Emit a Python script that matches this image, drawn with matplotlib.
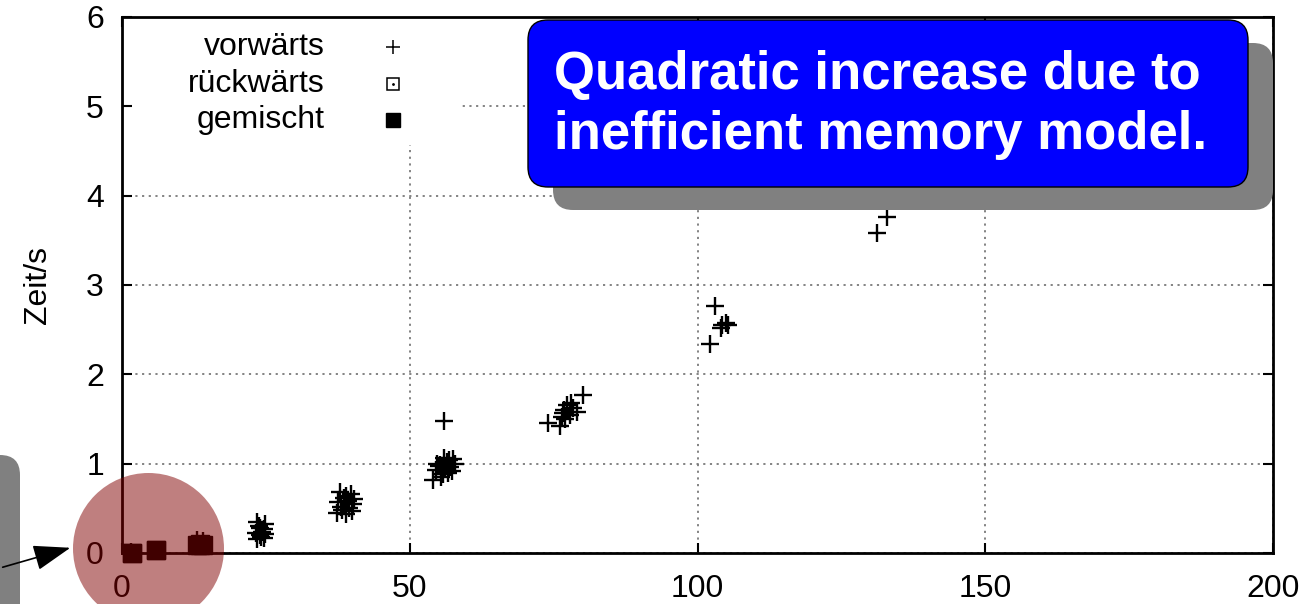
import matplotlib
matplotlib.use("Agg")
import matplotlib.pyplot as plt
from matplotlib.patches import FancyBboxPatch, Circle, Rectangle, FancyArrowPatch

plt.rcParams["font.family"] = ["Liberation Sans", "DejaVu Sans"]

# ── DATA ──────────────────────────────────────────────────────────────────────
SERIES_LABELS = ["vorwärts", "rückwärts", "gemischt"]

# vorwärts: problem size vs. time in seconds
fwd_x = [1.6, 6.0, 13.0, 14.1,
         23.2, 23.8, 24.1, 24.6, 24.9, 23.5, 24.3, 24.8, 23.4, 24.0, 24.7, 23.9,
         37.3, 38.0, 38.6, 39.2, 39.8, 40.3, 37.8, 38.9, 39.5, 40.1, 38.3, 39.0, 39.9, 37.5,
         54.0, 54.6, 55.2, 55.8, 56.4, 57.0, 57.6, 57.9, 54.8, 55.5, 56.2, 56.9, 57.4, 55.0, 56.0,
         56.7, 56.0,
         74.0, 76.1, 76.4, 76.8, 77.3, 77.9, 78.4, 79.0, 77.0, 78.0, 76.6, 80.1,
         102.2, 103.0, 104.0, 104.3, 105.0, 105.3,
         131.2, 132.9]
fwd_y = [0.01, 0.03, 0.14, 0.13,
         0.22, 0.30, 0.18, 0.27, 0.33, 0.16, 0.24, 0.21, 0.35, 0.28, 0.17, 0.20,
         0.45, 0.52, 0.62, 0.58, 0.66, 0.60, 0.68, 0.44, 0.50, 0.55, 0.48, 0.64, 0.47, 0.57,
         0.82, 0.93, 0.98, 0.88, 1.02, 0.96, 1.05, 1.00, 1.00, 0.85, 0.94, 1.04, 0.92, 0.97, 1.06,
         0.90, 1.48,
         1.46, 1.42, 1.52, 1.60, 1.66, 1.55, 1.62, 1.58, 1.50, 1.68, 1.57, 1.77,
         2.34, 2.77, 2.52, 2.55, 2.57, 2.55,
         3.58, 3.76]

# rückwärts: hidden under the gemischt squares
bwd_x = [1.8, 5.9, 13.5]
bwd_y = [0.00, 0.03, 0.09]

# gemischt
mix_x = [1.8, 5.9, 13.1, 13.6, 14.0]
mix_y = [0.00, 0.03, 0.09, 0.10, 0.09]

X_TICKS = [0, 50, 100, 150, 200]
Y_TICKS = [0, 1, 2, 3, 4, 5, 6]

NOTE_TEXT = "Quadratic increase due to\ninefficient memory model."

W_PX, H_PX = 1310, 604


def px_in(x, y):
    """pixel coords (top-left origin) -> inches (bottom-left origin)"""
    return x / 100.0, (H_PX - y) / 100.0


fig = plt.figure(figsize=(W_PX / 100, H_PX / 100), dpi=100)
ax = fig.add_axes([122 / W_PX, 51 / H_PX, 1151 / W_PX, 536 / H_PX])

ax.set_axisbelow(True)
ax.grid(True, color="#7a7a7a", linewidth=1.3, linestyle=(0, (1.2, 2.5)))

ax.plot(fwd_x, fwd_y, linestyle="none", marker="+", markersize=13,
        markeredgewidth=1.7, color="black", zorder=3, clip_on=False)
ax.plot(bwd_x, bwd_y, linestyle="none", marker="s", markersize=13,
        markerfacecolor="white", markeredgecolor="black", zorder=3, clip_on=False)
ax.plot(mix_x, mix_y, linestyle="none", marker="s", markersize=13.5,
        color="black", zorder=4, clip_on=False)

ax.set_xlim(0, 200)
ax.set_ylim(0, 6)
ax.set_xticks(X_TICKS)
ax.set_yticks(Y_TICKS)
ax.tick_params(direction="in", length=7, width=1.5, top=True, right=True,
               labelsize=23, colors="black")
ax.tick_params(axis="y", pad=13)
ax.tick_params(axis="x", pad=15)
for sp in ax.spines.values():
    sp.set_linewidth(2)
ax.set_ylabel("Zeit/s", fontsize=23, labelpad=24)

# gnuplot style key: opaque area, text right aligned, sample on the right
ax.add_patch(Rectangle((0.01, 0.762), 0.284, 0.236, transform=ax.transAxes,
                       facecolor="white", edgecolor="none", zorder=1))
key_y = [0.944, 0.875, 0.808]
for lab, ky in zip(SERIES_LABELS, key_y):
    ax.text(0.1764, ky, lab, transform=ax.transAxes, ha="right", va="center",
            fontsize=23, zorder=5)
ax.plot([0.2354], [key_y[0]], transform=ax.transAxes, marker="+", markersize=10.5,
        markeredgewidth=1.1, color="black", zorder=5)
ax.plot([0.2354], [key_y[1]], transform=ax.transAxes, marker="s", markersize=9,
        markerfacecolor="white", markeredgecolor="black", markeredgewidth=1.1, zorder=5)
ax.plot([0.2354], [key_y[1]], transform=ax.transAxes, marker=".", markersize=2,
        color="black", zorder=5)
ax.plot([0.2354], [key_y[2]], transform=ax.transAxes, marker="s", markersize=10,
        color="black", zorder=5)

# ── overlay annotations (slide callouts) ──────────────────────────────────────
tr = fig.dpi_scale_trans

# grey shadow of a callout cut off at the left border
x0, y0 = px_in(-40, 640)
fig.patches.append(FancyBboxPatch((x0, y0), 0.6, 1.85,
                                  boxstyle="round,pad=0,rounding_size=0.2",
                                  transform=tr, facecolor="#808080",
                                  edgecolor="none", zorder=6))

# blue callout with shadow
bx0, by0 = px_in(528, 187)
bw, bh = (1248 - 528) / 100, (187 - 20) / 100
fig.patches.append(FancyBboxPatch((bx0 + 0.25, by0 - 0.23), bw, bh,
                                  boxstyle="round,pad=0,rounding_size=0.2",
                                  transform=tr, facecolor="#808080",
                                  edgecolor="none", zorder=6))
fig.patches.append(FancyBboxPatch((bx0, by0), bw, bh,
                                  boxstyle="round,pad=0,rounding_size=0.2",
                                  transform=tr, facecolor="#0000ff",
                                  edgecolor="black", linewidth=1.0, zorder=7))
tx, ty = px_in(881, 105)
fig.text(tx / (W_PX / 100), ty / (H_PX / 100), NOTE_TEXT, color="white",
         fontsize=38, fontweight="bold", ha="center", va="center",
         multialignment="left", linespacing=1.28, zorder=8)

# red highlight circle around the origin
cx, cy = px_in(148.5, 548.5)
fig.patches.append(Circle((cx, cy), 0.755, transform=tr, facecolor="#800000",
                          alpha=0.5, edgecolor="none", zorder=9))

# arrow pointing at the circle
fig.patches.append(FancyArrowPatch(px_in(0, 568), px_in(73, 547), transform=tr,
                                   arrowstyle="-|>,head_length=1.45,head_width=0.5",
                                   mutation_scale=16, linewidth=1.2,
                                   color="black", zorder=10))

fig.savefig("out.png", dpi=100)
